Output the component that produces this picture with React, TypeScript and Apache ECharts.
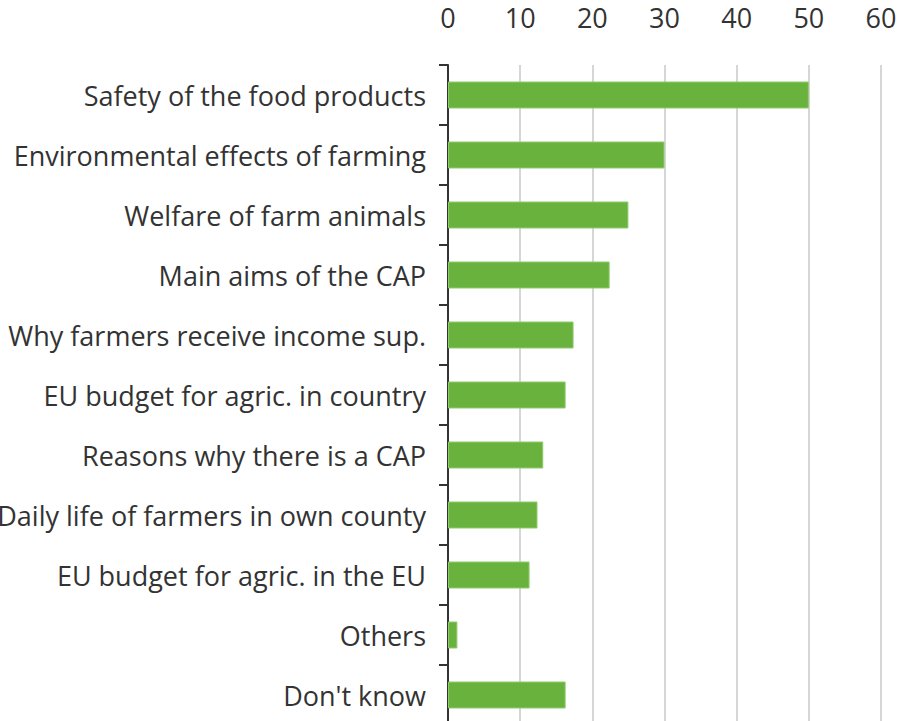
import React, { useEffect, useRef } from "react";
import * as echarts from "echarts";

const categories = [
  "Safety of the food products",
  "Environmental effects of farming",
  "Welfare of farm animals",
  "Main aims of the CAP",
  "Why farmers receive income sup.",
  "EU budget for agric. in country",
  "Reasons why there is a CAP",
  "Daily life of farmers in own county",
  "EU budget for agric. in the EU",
  "Others",
  "Don't know",
];
const values = [50, 30, 25, 22.4, 17.4, 16.3, 13.2, 12.4, 11.3, 1.3, 16.3];
const xTicks = [0, 10, 20, 30, 40, 50, 60];

export default function App() {
  const ref = useRef<HTMLDivElement>(null);
  useEffect(() => {
    if (!ref.current) return;
    const chart = echarts.init(ref.current, undefined, { renderer: "svg" });
    chart.setOption({
      animation: false,
      backgroundColor: "#ffffff",
      grid: {
        left: 448,
        top: 65,
        width: 433,
        height: 660,
        containLabel: false,
        outerBoundsMode: "none",
      },
      xAxis: {
        type: "value",
        position: "top",
        min: xTicks[0],
        max: xTicks[xTicks.length - 1],
        interval: 10,
        axisLine: { show: false },
        axisTick: { show: false },
        axisLabel: {
          margin: 34,
          color: "#333333",
          fontSize: 27,
          fontFamily: "Open Sans",
        },
        splitLine: { show: true, lineStyle: { color: "#c8c8c8", width: 1.5 } },
      },
      yAxis: {
        type: "category",
        inverse: true,
        data: categories,
        axisLine: { show: true, lineStyle: { color: "#333333", width: 2 } },
        axisTick: { show: true, length: 9, lineStyle: { color: "#333333", width: 2 } },
        axisLabel: {
          margin: 22,
          color: "#333333",
          fontSize: 27,
          fontFamily: "Open Sans",
          padding: [0, 0, 3, 0],
        },
        splitLine: { show: false },
      },
      series: [
        {
          type: "bar",
          data: values,
          barWidth: 27,
          itemStyle: { color: "#6ab23e", borderColor: "#8fcb6c", borderWidth: 1 },
        },
      ],
    });
    return () => chart.dispose();
  }, []);
  return (
    <div
      ref={ref}
      style={{ position: "absolute", left: 0, top: 0, width: 904, height: 740 }}
    />
  );
}
